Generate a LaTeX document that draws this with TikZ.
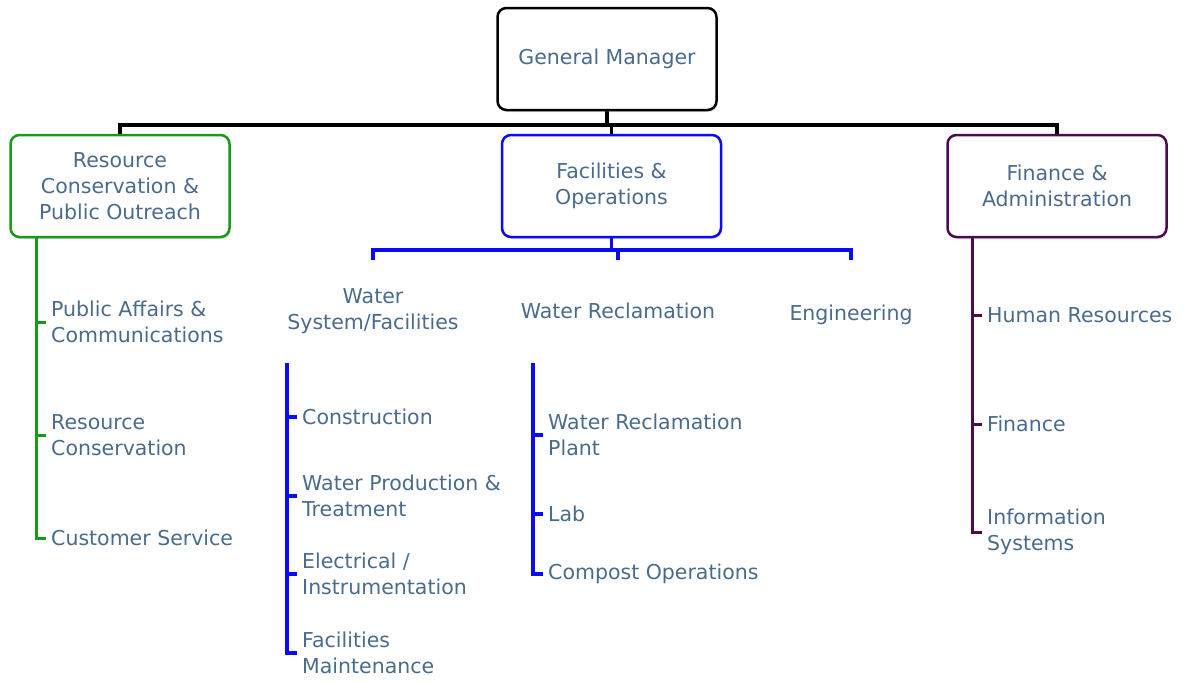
\documentclass[tikz,border=0pt]{standalone}
\usepackage{fontspec}
\setmainfont{DejaVu Sans}
\usetikzlibrary{positioning,shadows,backgrounds}

\definecolor{txt}{HTML}{4A6B8C}
\definecolor{grn}{HTML}{17991A}
\definecolor{blu}{HTML}{0A0AF5}
\definecolor{pur}{HTML}{4E0A4E}

\begin{document}
\begin{tikzpicture}[x=1pt, y=-1pt, font=\fontsize{20.5}{26}\selectfont, text=txt,
	box/.style={draw=#1, rounded corners=9pt, line width=2.5pt, fill=white, text=txt, minimum width=219pt, minimum height=102pt, align=center, drop shadow={shadow xshift=1pt, shadow yshift=-2pt, opacity=.25}},
	lbl/.style={anchor=west, align=left, inner xsep=5pt, inner ysep=0pt},
	top/.style={align=center, inner sep=0pt},
	kl/.style={line width=3.5pt, black},
	gl/.style={line width=3pt, grn},
	bl/.style={line width=3.5pt, blu},
	pl/.style={line width=3pt, pur}]
	\useasboundingbox (0,0) rectangle (1185,681);

	% boxes
	\node[box=black] (gm) at (607,59) {General Manager};
	\node[box=grn] (rc) at (120,186) {Resource\\Conservation \&\\Public Outreach};
	\node[box=blu] (fo) at (611.5,186) {Facilities \&\\Operations};
	\node[box=pur] (fa) at (1057,186) {Finance \&\\Administration};

	% facilities sections
	\node[top] (ws) at (373,311) {Water\\System/Facilities};
	\node[top] (wr) at (618,311) {Water Reclamation};
	\node[top] (en) at (851,315) {Engineering};

	% green column
	\node[lbl] (pa) at (46,322) {Public Affairs \&\\Communications};
	\node[lbl] (rcon) at (46,435) {Resource\\Conservation};
	\node[lbl] (cs) at (46,538) {Customer Service};

	% water system column
	\node[lbl] (co) at (297,417) {Construction};
	\node[lbl] (wp) at (297,496) {Water Production \&\\Treatment};
	\node[lbl] (ei) at (297,574) {Electrical /\\Instrumentation};
	\node[lbl] (fm) at (297,653) {Facilities\\Maintenance};

	% water reclamation column
	\node[lbl] (wrp) at (543,435) {Water Reclamation\\Plant};
	\node[lbl] (lab) at (543,514) {Lab};
	\node[lbl] (cp) at (543,574) {Compost Operations};

	% finance column
	\node[lbl] (hr) at (982,315) {Human Resources};
	\node[lbl] (fi) at (982,424) {Finance};
	\node[lbl] (is) at (982,532) {Information\\Systems};

	\coordinate (kbus) at (0,125);
	\coordinate (bbus) at (0,250);
	\coordinate (bdrop) at (0,260);
	\coordinate (gs) at (36,0);
	\coordinate (wstop) at (287,363);
	\coordinate (wrtop) at (533,363);
	\coordinate (ps) at (972,0);

	% top level
	\begin{scope}[on background layer]
	\draw[kl] (gm.south) -- (gm.south |- kbus);
	\draw[kl] (rc.north) |- (kbus -| fa.north) -- (fa.north);
	\draw[kl] (fo.north |- kbus) -- (fo.north);
	\end{scope}

	% facilities
	\draw[bl] (fo.south) -- (fo.south |- bbus);
	\draw[bl] (ws.north |- bdrop) |- (bbus -| en.north) -- (en.north |- bdrop);
	\draw[bl] (wr.north |- bbus) -- (wr.north |- bdrop);
	\draw[bl] (wstop) |- (fm.west);
	\draw[bl] (wstop |- co.west) -- (co.west);
	\draw[bl] (wstop |- wp.west) -- (wp.west);
	\draw[bl] (wstop |- ei.west) -- (ei.west);
	\draw[bl] (wrtop) |- (cp.west);
	\draw[bl] (wrtop |- wrp.west) -- (wrp.west);
	\draw[bl] (wrtop |- lab.west) -- (lab.west);

	% resource conservation
	\draw[gl] (rc.south -| gs) |- (cs.west);
	\draw[gl] (gs |- pa.west) -- (pa.west);
	\draw[gl] (gs |- rcon.west) -- (rcon.west);

	% finance
	\draw[pl] (fa.south -| ps) |- (is.west);
	\draw[pl] (ps |- hr.west) -- (hr.west);
	\draw[pl] (ps |- fi.west) -- (fi.west);
\end{tikzpicture}
\end{document}
